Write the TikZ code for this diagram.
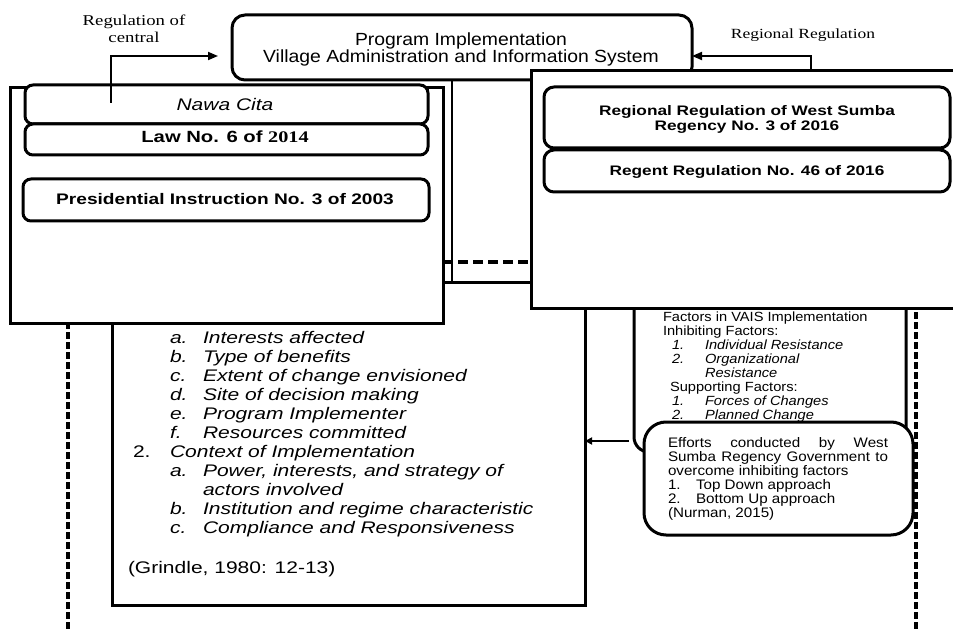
\documentclass[tikz,border=0pt]{standalone}
\usepackage{fontspec}
\setmainfont{Liberation Sans}
\newfontfamily\fa[FakeStretch=1.1]{Liberation Sans}
\newfontfamily\fb[FakeStretch=1.25]{Liberation Sans}
\newfontfamily\fs[FakeStretch=1.25]{Liberation Serif}
\usetikzlibrary{arrows.meta}
\newcommand\fsz[2]{\fontsize{#1}{#2}\selectfont}
\begin{document}
\begin{tikzpicture}[x=1pt,y=-1pt,
  frame/.style={draw, line width=3pt, fill=white, inner sep=0pt, outer sep=0pt, anchor=north west},
  rbox/.style={frame, rounded corners=8pt},
  txt/.style={inner sep=0pt, outer sep=0pt},
  arr/.style={line width=1.8pt, -{Triangle[length=10pt,width=8pt]}},
  arrs/.style={line width=1.8pt, -{Triangle[length=7pt,width=7pt]}},
  dshv/.style={line width=3.2pt, dash pattern=on 7pt off 3pt},
  dshh/.style={line width=3.2pt, dash pattern=on 10pt off 5pt},
  listfont/.style={font=\fb\itshape\fsz{16.8}{19}},
  facfont/.style={font=\fa\fsz{13.3}{14}},
  efffont/.style={font=\fa\fsz{13.8}{14}},
]
\useasboundingbox (0,0) rectangle (953,631);
\clip (0,0) rectangle (953,631);

% dashed frame behind everything
\coordinate (dTL) at (68,262);
\coordinate (dTR) at (916,262);
\coordinate (dBL) at (68,640);
\coordinate (dBR) at (916,640);
\draw[dshv] (dTL) -- (dBL);
\draw[dshv] (dTR) -- (dBR);
\draw[dshh] (dTL) -- (dTR);

% lower-left box (Grindle)
\node[frame, minimum width=473, minimum height=323] (low) at (112,282) {};
\foreach \l/\t/\y [count=\i] in {a./Interests affected/343, b./Type of benefits/362,
   c./Extent of change envisioned/381, d./Site of decision making/400,
   e./Program Implementer/419, f./Resources committed/438,
   a./{Power, interests, and strategy of}/476,
   b./Institution and regime characteristic/514, c./Compliance and Responsiveness/533}{
  \node[txt, listfont, anchor=base west] (la\i) at (170,\y) {\l};
  \node[txt, listfont, anchor=base west] (lt\i) at (203,\y) {\t};
}
\node[txt, font=\fb\fsz{16.8}{19}, anchor=base west] (n2) at (133,457) {2.};
\node[txt, listfont, anchor=base west] (ctx) at (170,457) {Context of Implementation};
\node[txt, listfont, anchor=base west] (act) at (203,495) {actors involved};
\node[txt, font=\fb\fsz{16.8}{19}, anchor=base west] (grin) at (128,573) {(Grindle, 1980: 12-13)};

% factors box
\node[frame, rounded corners=15pt, minimum width=272, minimum height=165] (fac) at (634,287) {};
\node[txt, facfont, anchor=base west] (f1) at (663,321) {Factors in VAIS Implementation};
\node[txt, facfont, anchor=base west] (f2) at (663,335) {Inhibiting Factors:};
\node[txt, facfont, anchor=base west] (f3) at (670,391) {Supporting Factors:};
\foreach \n/\t/\y [count=\i] in {1./Individual Resistance/349, 2./Organizational/363,
   /Resistance/377, 1./Forces of Changes/405, 2./Planned Change/419}{
  \node[txt, font=\fa\itshape\fsz{13.3}{14}, anchor=base west] (fn\i) at (672,\y) {\n};
  \node[txt, font=\fa\itshape\fsz{13.3}{14}, anchor=base west] (ft\i) at (705,\y) {\t};
}

% efforts box
\node[frame, rounded corners=22pt, minimum width=269, minimum height=113] (eff) at (644,422) {};
\node[txt, efffont, anchor=base west] (e1) at (668,447.5) {\makebox[220pt][s]{Efforts conducted by West}};
\node[txt, efffont, anchor=base west] (e2) at (668,461.5) {\makebox[220pt][s]{Sumba Regency Government to}};
\node[txt, efffont, anchor=base west] (e3) at (668,475.5) {overcome inhibiting factors};
\node[txt, efffont, anchor=base west] (e4) at (668,489.5) {1.};
\node[txt, efffont, anchor=base west] (e5) at (696,489.5) {Top Down approach};
\node[txt, efffont, anchor=base west] (e6) at (668,503.5) {2.};
\node[txt, efffont, anchor=base west] (e7) at (696,503.5) {Bottom Up approach};
\node[txt, efffont, anchor=base west] (e8) at (668,517) {(Nurman, 2015)};

% arrow from efforts to Grindle box
\coordinate (eaS) at (629,441);
\draw[arrs] (eaS) -- (eaS -| low.east);

% top box
\node[frame, rounded corners=13pt, minimum width=460, minimum height=65] (top) at (232,15) {};
\node[txt, anchor=base, font=\fa\fsz{17.6}{17}] (t1) at (461,46) {Program Implementation};
\node[txt, anchor=base, font=\fa\fsz{17.6}{17}] (t2) at (461,63) {Village Administration and Information System};
\coordinate (cx) at (452,0);
\draw[line width=1.2pt] (cx |- top.south) -- (cx |- low.north);

% left big box
\node[frame, minimum width=433, minimum height=235] (lbox) at (10,88) {};
\node[rbox, minimum width=403, minimum height=39] (nawa) at (25,85) {};
\node[rbox, minimum width=403, minimum height=31] (law) at (25,124) {};
\node[rbox, minimum width=406, minimum height=42] (pres) at (23,179) {};
\node[txt, anchor=base, font=\fb\itshape\fsz{16.8}{18}] (nawaT) at (225,110.5) {Nawa Cita};
\node[txt, anchor=base, font=\fb\bfseries\fsz{16.2}{18}] (lawT) at (225,143) {Law No. 6 of {\fs\bfseries 2014}};
\node[txt, anchor=base, font=\fb\bfseries\fsz{15.3}{18}] (presT) at (225,205) {Presidential Instruction No. 3 of 2003};

% right big box
\node[frame, minimum width=440, minimum height=237] (rbig) at (531,71) {};
\node[rbox, rounded corners=10pt, minimum width=406, minimum height=61] (regl) at (544,87) {};
\node[rbox, rounded corners=10pt, minimum width=406, minimum height=42] (regt) at (544,150) {};
\node[txt, anchor=base, font=\fb\bfseries\fsz{13.8}{15}] (reglT1) at (747,116) {Regional Regulation of West Sumba};
\node[txt, anchor=base, font=\fb\bfseries\fsz{13.8}{15}] (reglT2) at (747,131) {Regency No. 3 of 2016};
\node[txt, anchor=base, font=\fb\bfseries\fsz{13.8}{15}] (regtT) at (747,176) {Regent Regulation No. 46 of 2016};

% labels and arrows
\node[txt, anchor=base, font=\fs\fsz{15}{17}] (rc1) at (134,26) {Regulation of};
\node[txt, anchor=base, font=\fs\fsz{15}{17}] (rc2) at (134,43) {central};
\node[txt, anchor=base, font=\fs\fsz{14}{17}] (rr) at (803,39) {Regional Regulation};
\coordinate (rcS) at (111,103);
\coordinate (rcE) at (218,56);
\draw[arr] (rcS) |- (rcE);
\coordinate (rrS) at (811,71);
\coordinate (rrM) at (811,56);
\draw[arr] (rrS) -- (rrM) -- (rrM -| top.east);
\end{tikzpicture}
\end{document}
